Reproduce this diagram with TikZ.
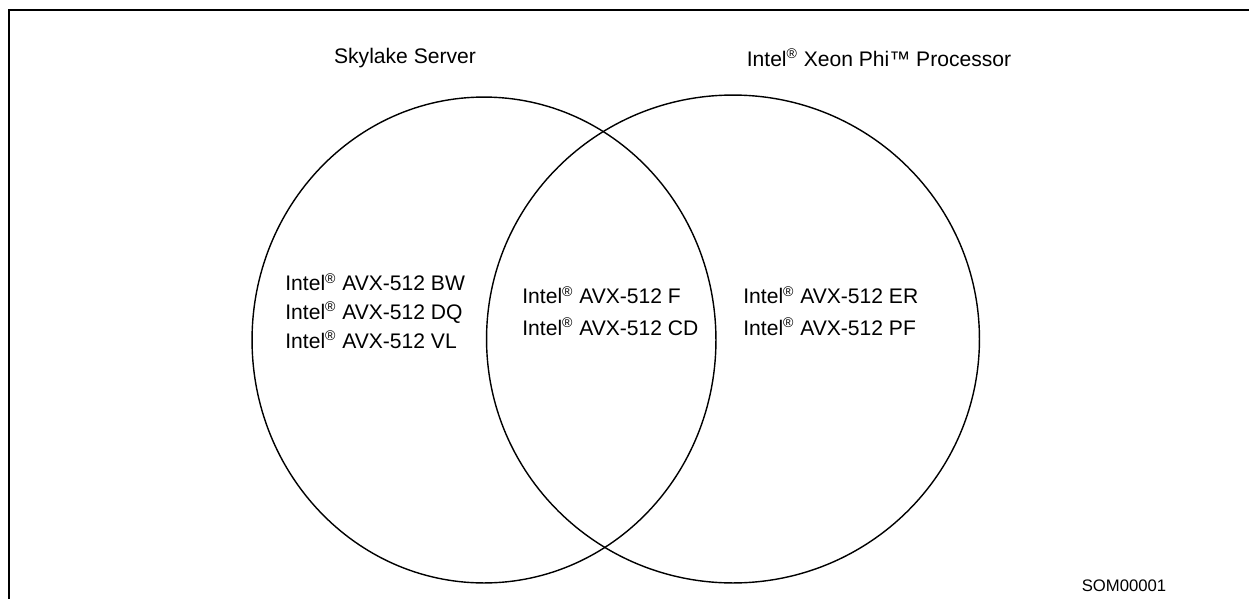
\documentclass[tikz,border=0pt]{standalone}
\usepackage{fontspec}
\setmainfont{Liberation Sans}
\usetikzlibrary{positioning,shapes.geometric}
\newcommand{\reg}{\textsuperscript{\textregistered}}
\tikzset{
  setc/.style={draw,ellipse,line width=0.8pt,inner sep=0pt},
  head/.style={font=\fontsize{12}{14}\selectfont,inner sep=0pt},
  feat/.style={font=\fontsize{12}{16.4}\selectfont,align=left,anchor=west,inner sep=0pt},
  featw/.style={feat,font=\fontsize{12}{17.9}\selectfont},
  tag/.style={font=\fontsize{9.5}{11}\selectfont,inner sep=0pt},
  frame/.style={line width=1.7pt},
}

\begin{document}
\begin{tikzpicture}[x=0.02cm,y=-0.02cm]
    \useasboundingbox (0,0) rectangle (1249,599);
    \draw[frame] (9,600) |- (1250,10);
    \node[setc,minimum width=9.28cm,minimum height=9.72cm] (skx) at (484,340) {};
    \node[setc,minimum width=9.86cm,minimum height=9.76cm] (phi) at (733,339) {};
    \node[head] (skxt) at (405,58) {Skylake Server};
    \node[head] (phit) at (879,58) {Intel\reg{} Xeon Phi™ Processor};
    \node[feat] (own) at (285,311) {Intel\reg{} AVX-512 BW\\Intel\reg{} AVX-512 DQ\\Intel\reg{} AVX-512 VL};
    \node[featw] (both) at (522,311) {Intel\reg{} AVX-512 F\\Intel\reg{} AVX-512 CD};
    \node[featw] (knl) at (743,311) {Intel\reg{} AVX-512 ER\\Intel\reg{} AVX-512 PF};
    \node[tag] (som) at (1124,586) {SOM00001};
  \end{tikzpicture}
\end{document}
